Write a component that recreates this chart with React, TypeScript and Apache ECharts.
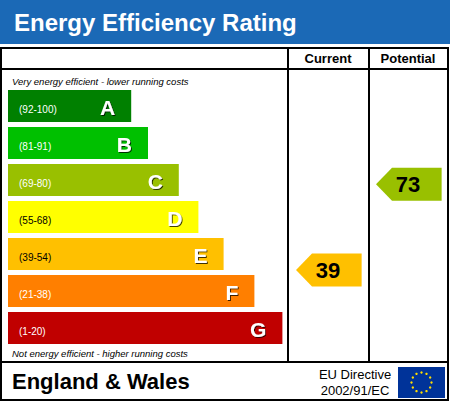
import React, { useEffect, useRef } from "react";
import * as echarts from "echarts";

const bands = ["A", "B", "C", "D", "E", "F", "G"];
const bandLow = [92, 81, 69, 55, 39, 21, 1];
const bandHigh = [100, 91, 80, 68, 54, 38, 20];
const barLengths = [44, 50, 61, 68, 77, 88, 98];
const bandColors = ["#008000", "#00c000", "#99c000", "#ffff00", "#ffc000", "#ff7f00", "#c00000"];
const rangeTextColors = ["#ffffff", "#ffffff", "#ffffff", "#000000", "#000000", "#ffffff", "#ffffff"];
const columns = ["Current", "Potential"];
const ratings = [39, 73];

const FONT = '"Liberation Sans", Arial, sans-serif';
const BAR_H = 32;

function bandOf(r: number) {
  for (let i = 0; i < bands.length; i++) {
    if (r >= bandLow[i] && r <= bandHigh[i]) return i;
  }
  return bands.length - 1;
}

export default function App() {
  const ref = useRef<HTMLDivElement>(null);
  useEffect(() => {
    if (!ref.current) return;
    const chart = echarts.init(ref.current, null, { renderer: "svg" });

    const stars: any[] = [];
    for (let i = 0; i < 12; i++) {
      const a = (i / 12) * Math.PI * 2;
      stars.push({
        type: "circle",
        shape: { cx: 421.5 + 10 * Math.cos(a), cy: 382.5 + 10 * Math.sin(a), r: 1.2 },
        style: { fill: "#ffdd00" },
      });
    }

    const lineStyle = { stroke: "#000", lineWidth: 2 };

    const option: any = {
      animation: false,
      grid: [
        { left: 8, top: 87.5, width: 280, height: 259 },
        { left: 288, top: 87.5, width: 160, height: 259 },
      ],
      xAxis: [
        { type: "value", gridIndex: 0, min: 0, max: 100, show: false },
        {
          type: "category",
          gridIndex: 1,
          data: columns,
          position: "top",
          axisLine: { show: false },
          axisTick: { show: false },
          splitLine: { show: false },
          axisLabel: {
            margin: 23,
            color: "#000",
            fontFamily: FONT,
            fontWeight: "bold",
            fontSize: 13,
          },
        },
      ],
      yAxis: [
        { type: "category", gridIndex: 0, data: bands, inverse: true, show: false },
        { type: "category", gridIndex: 1, data: bands, inverse: true, show: false },
      ],
      series: [
        {
          type: "bar",
          xAxisIndex: 0,
          yAxisIndex: 0,
          barWidth: BAR_H,
          data: barLengths.map((v, i) => ({
            value: v,
            itemStyle: { color: bandColors[i] },
            label: { color: rangeTextColors[i] },
          })),
          label: {
            show: true,
            position: "insideLeft",
            distance: 11,
            offset: [0, 3],
            fontFamily: FONT,
            fontSize: 10,
            formatter: (p: any) => `(${bandLow[p.dataIndex]}-${bandHigh[p.dataIndex]})`,
          },
        },
        {
          type: "bar",
          xAxisIndex: 0,
          yAxisIndex: 0,
          barWidth: BAR_H,
          barGap: "-100%",
          data: barLengths,
          itemStyle: { color: "rgba(0,0,0,0)" },
          label: {
            show: true,
            position: "insideRight",
            distance: 16,
            offset: [0, 1],
            fontFamily: FONT,
            fontSize: 21,
            fontWeight: "bold",
            color: "#fff",
            textShadowColor: "rgba(0,0,0,0.75)",
            textShadowBlur: 1,
            textShadowOffsetX: 1,
            textShadowOffsetY: 1,
            formatter: (p: any) => bands[p.dataIndex],
          },
        },
        {
          type: "custom",
          xAxisIndex: 1,
          yAxisIndex: 1,
          data: ratings.map((r, c) => [c, bandOf(r), r]),
          renderItem: (params: any, api: any) => {
            const col = api.value(0);
            const band = api.value(1);
            const rating = api.value(2);
            const c = api.coord([col, band]);
            const colW = api.size([1, 0])[0];
            const top = c[1] - BAR_H / 2;
            const frac = (bandHigh[band] - rating) / (bandHigh[band] - bandLow[band]);
            const cy = top + frac * BAR_H;
            const half = 16.5;
            const left = c[0] - 0.4 * colW;
            const right = c[0] + 0.42 * colW;
            const tip = 16;
            return {
              type: "group",
              children: [
                {
                  type: "polygon",
                  shape: {
                    points: [
                      [left, cy],
                      [left + tip, cy - half],
                      [right, cy - half],
                      [right, cy + half],
                      [left + tip, cy + half],
                    ],
                  },
                  style: { fill: bandColors[band] },
                },
                {
                  type: "text",
                  x: c[0],
                  y: cy,
                  style: {
                    text: String(rating),
                    fill: "#000",
                    font: `bold 22px ${FONT}`,
                    align: "center",
                    verticalAlign: "middle",
                  },
                },
              ],
            };
          },
        },
      ],
      graphic: [
        { type: "rect", shape: { x: 0, y: 0, width: 450, height: 44 }, style: { fill: "#1b69b6" } },
        {
          type: "text",
          x: 14,
          y: 22,
          style: {
            text: "Energy Efficiency Rating",
            fill: "#fff",
            font: `bold 24px ${FONT}`,
            verticalAlign: "middle",
          },
        },
        { type: "rect", shape: { x: 1, y: 48, width: 447, height: 352 }, style: { fill: "none", ...lineStyle } },
        { type: "line", shape: { x1: 1, y1: 69, x2: 448, y2: 69 }, style: lineStyle },
        { type: "line", shape: { x1: 1, y1: 362, x2: 448, y2: 362 }, style: lineStyle },
        { type: "line", shape: { x1: 288, y1: 48, x2: 288, y2: 362 }, style: lineStyle },
        { type: "line", shape: { x1: 369, y1: 48, x2: 369, y2: 362 }, style: lineStyle },
        {
          type: "text",
          x: 12,
          y: 81,
          style: {
            text: "Very energy efficient - lower running costs",
            fill: "#000",
            font: `italic 9.5px ${FONT}`,
            verticalAlign: "middle",
          },
        },
        {
          type: "text",
          x: 12,
          y: 353,
          style: {
            text: "Not energy efficient - higher running costs",
            fill: "#000",
            font: `italic 9.5px ${FONT}`,
            verticalAlign: "middle",
          },
        },
        {
          type: "text",
          x: 12,
          y: 381,
          style: {
            text: "England & Wales",
            fill: "#000",
            font: `bold 22px ${FONT}`,
            verticalAlign: "middle",
          },
        },
        {
          type: "text",
          x: 355,
          y: 374,
          style: {
            text: "EU Directive",
            fill: "#000",
            font: `13px ${FONT}`,
            align: "center",
            verticalAlign: "middle",
          },
        },
        {
          type: "text",
          x: 355,
          y: 390,
          style: {
            text: "2002/91/EC",
            fill: "#000",
            font: `13px ${FONT}`,
            align: "center",
            verticalAlign: "middle",
          },
        },
        { type: "rect", shape: { x: 398, y: 367, width: 47, height: 31 }, style: { fill: "#003399" } },
        ...stars,
      ],
    };
    chart.setOption(option);
    return () => chart.dispose();
  }, []);
  return (
    <div
      ref={ref}
      style={{ position: "absolute", left: 0, top: 0, width: 450, height: 402, background: "#fff" }}
    />
  );
}
